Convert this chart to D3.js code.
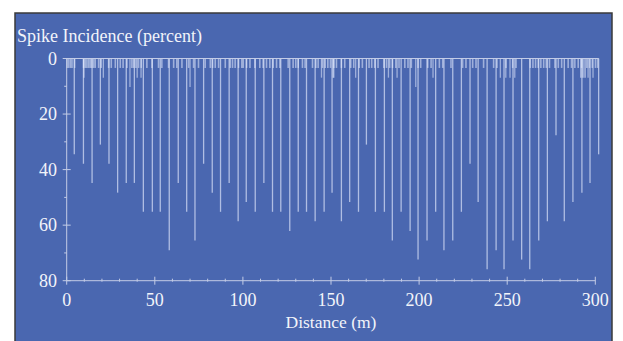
<!DOCTYPE html>
<html>
<head>
<meta charset="utf-8">
<script src="https://cdn.jsdelivr.net/npm/d3@7"></script>
<style>
  html, body { margin: 0; padding: 0; background: #fff; }
  svg { display: block; }
</style>
</head>
<body>
<svg id="chart" width="623" height="341"></svg>
<script>
// long spikes: distance (m) and incidence (percent)
const longDist = [4.3, 9.5, 14.4, 19.1, 24, 28.9, 33.8, 38.4, 43.5, 48.6, 53.1, 58.2, 63.3, 68.1, 72.8,
  77.7, 82.6, 87.3, 92.2, 97.3, 101.9, 107, 111.9, 116.8, 121.5, 126.6, 131.4, 136.1, 141, 146.1, 150.6,
  155.9, 160.6, 165.6, 170.1, 175.2, 180.3, 184.8, 189.8, 194.9, 199.4, 204.5, 209.4, 214.1, 219.1, 224,
  228.9, 233.5, 238.6, 243.7, 248.2, 253.3, 258.2, 262.8, 267.9, 272.8, 277.7, 282.4, 287.3, 292.4, 297, 301.9];
const longPct = [34.5, 37.9, 44.8, 31, 37.9, 48.3, 44.8, 44.8, 55.2, 55.2, 55.2, 69, 44.8, 55.2, 65.5,
  37.9, 48.3, 55.2, 44.8, 58.6, 51.7, 55.2, 44.8, 55.2, 55.2, 62.1, 55.2, 55.2, 58.6, 55.2, 48.3,
  58.6, 51.7, 55.2, 31, 55.2, 55.2, 65.5, 55.2, 62.1, 72.4, 65.5, 55.2, 69, 65.5, 55.2,
  37.9, 51.7, 75.9, 69, 75.9, 65.5, 72.4, 75.9, 65.5, 58.6, 27.6, 58.6, 51.7, 48.3, 44.8, 34.5];

// medium spikes (about 7 and 10 percent)
const midDist = [9.8, 20.8, 35.9, 40, 42.2, 70, 144.6, 151.2, 151.6, 164, 182.6, 187.5, 198.1, 207.9,
  246.1, 249.2, 251.6, 254.3, 291.7, 292.6, 293.5, 294.3, 295.9, 298.7];
const midPct = [6.9, 6.9, 10.3, 6.9, 6.9, 10.3, 6.9, 6.9, 6.9, 6.9, 6.9, 6.9, 10.3, 6.9,
  6.9, 6.9, 6.9, 6.9, 6.9, 6.9, 6.9, 6.9, 6.9, 6.9];

// short spikes along the top (about 3.4 percent)
const shortDist = [0.2, 1.1, 2.1, 3, 4.5, 9.6, 10.6, 11.5, 12.5, 13.4, 14.3, 15.3, 16.2, 18.1, 19.6,
  23.8, 25.3, 27.6, 30.4, 32, 34.2, 37, 38, 39.3, 40.8, 42.3, 45.5, 48.4, 52.1, 54, 57.8, 60.7,
  62.5, 65.4, 69.2, 72, 74.8, 78.6, 81.5, 82.8, 84.3, 86.2, 90, 92.8, 94.1, 95.6, 97.5, 99.4,
  100.2, 102.1, 104, 106.8, 109.6, 111.5, 113.4, 115.3, 117.2, 119.1, 121, 125.7, 128.5, 130,
  131.4, 133.8, 135.3, 139.5, 141.4, 142.7, 145.2, 146.7, 148.2, 149.7, 151.6, 153.1, 155.9,
  157.8, 161.2, 162.9, 166, 167.8, 171.6, 173.1, 174.8, 176.7, 180, 181.5, 183.3, 184.9, 186.8,
  188.6, 191.9, 193.7, 195.6, 199.4, 200.9, 204.9, 206.8, 211.5, 213.4, 218.1, 224.7, 226.6,
  230.4, 232.3, 236.6, 242.3, 244.2, 249.3, 253.1, 255, 263.1, 264.6, 266.1, 267.6, 269.1,
  270.7, 272.2, 274, 277.1, 279, 280.9, 284.6, 286.5, 288.4, 290.3, 292.2, 295.2, 296.7, 298.3,
  300.1, 301.3];
const shortPct = 3.4;

const xTicks = [0, 50, 100, 150, 200, 250, 300];
const yTicks = [0, 20, 40, 60, 80];

const svg = d3.select("#chart");
const serif = "'Liberation Serif', 'DejaVu Serif', serif";
const textFill = "#f2f4fa";
const axisColor = "#c3cce6";
const spikeColor = "#e6ecff";

// panel
svg.append("rect")
  .attr("x", 15).attr("y", 13)
  .attr("width", 597).attr("height", 340)
  .attr("fill", "#4a67b0")
  .attr("stroke", "#3a3a3a")
  .attr("stroke-width", 1.5);

const x = d3.scaleLinear().domain([0, 300]).range([66.7, 595.3]);
const y = d3.scaleLinear().domain([0, 80]).range([58.5, 280.7]);

const spikes = [];
shortDist.forEach(d => spikes.push({ d, p: shortPct, w: 1.6, o: 0.55 }));
midDist.forEach((d, i) => spikes.push({ d, p: midPct[i], w: 1.3, o: 0.55 }));
longDist.forEach((d, i) => spikes.push({ d, p: longPct[i], w: 1.3, o: 0.65 }));

svg.append("g")
  .selectAll("line")
  .data(spikes)
  .join("line")
  .attr("x1", s => x(s.d)).attr("x2", s => x(s.d))
  .attr("y1", y(0)).attr("y2", s => y(s.p))
  .attr("stroke", spikeColor)
  .attr("stroke-width", s => s.w)
  .attr("stroke-opacity", s => s.o);

// baseline at 0
svg.append("line")
  .attr("x1", x(0)).attr("x2", x(302))
  .attr("y1", y(0)).attr("y2", y(0))
  .attr("stroke", axisColor).attr("stroke-width", 1);

// y axis
const yAxis = svg.append("g");
yAxis.append("line")
  .attr("x1", x(0)).attr("x2", x(0))
  .attr("y1", y(0)).attr("y2", y(80))
  .attr("stroke", axisColor);
yAxis.selectAll("line.minor")
  .data(d3.range(0, 81, 10))
  .join("line").attr("class", "minor")
  .attr("x1", v => x(0) - (v % 20 === 0 ? 4 : 2.5))
  .attr("x2", v => x(0) + (v % 20 === 0 ? 4 : 0))
  .attr("y1", v => y(v)).attr("y2", v => y(v))
  .attr("stroke", axisColor);
yAxis.selectAll("text")
  .data(yTicks)
  .join("text")
  .attr("x", 57).attr("y", v => y(v) + 6)
  .attr("text-anchor", "end")
  .attr("fill", textFill)
  .attr("style", `font-family: ${serif}; font-size: 18px;`)
  .text(v => v);

// x axis
const xAxis = svg.append("g");
xAxis.append("line")
  .attr("x1", x(0)).attr("x2", x(300))
  .attr("y1", y(80)).attr("y2", y(80))
  .attr("stroke", axisColor);
xAxis.selectAll("line.tick")
  .data(d3.range(0, 301, 10))
  .join("line").attr("class", "tick")
  .attr("x1", v => x(v)).attr("x2", v => x(v))
  .attr("y1", v => y(80) - (v % 50 === 0 ? 4 : 2))
  .attr("y2", v => y(80) + (v % 50 === 0 ? 4 : 1))
  .attr("stroke", axisColor);
xAxis.selectAll("text")
  .data(xTicks)
  .join("text")
  .attr("x", v => x(v)).attr("y", 306)
  .attr("text-anchor", "middle")
  .attr("fill", textFill)
  .attr("style", `font-family: ${serif}; font-size: 18px;`)
  .text(v => v);

svg.append("text")
  .attr("x", x(150)).attr("y", 328)
  .attr("text-anchor", "middle")
  .attr("fill", textFill)
  .attr("style", `font-family: ${serif}; font-size: 17.5px;`)
  .text("Distance (m)");

svg.append("text")
  .attr("x", 17).attr("y", 42)
  .attr("fill", textFill)
  .attr("style", `font-family: ${serif}; font-size: 18px;`)
  .text("Spike Incidence (percent)");
</script>
</body>
</html>
